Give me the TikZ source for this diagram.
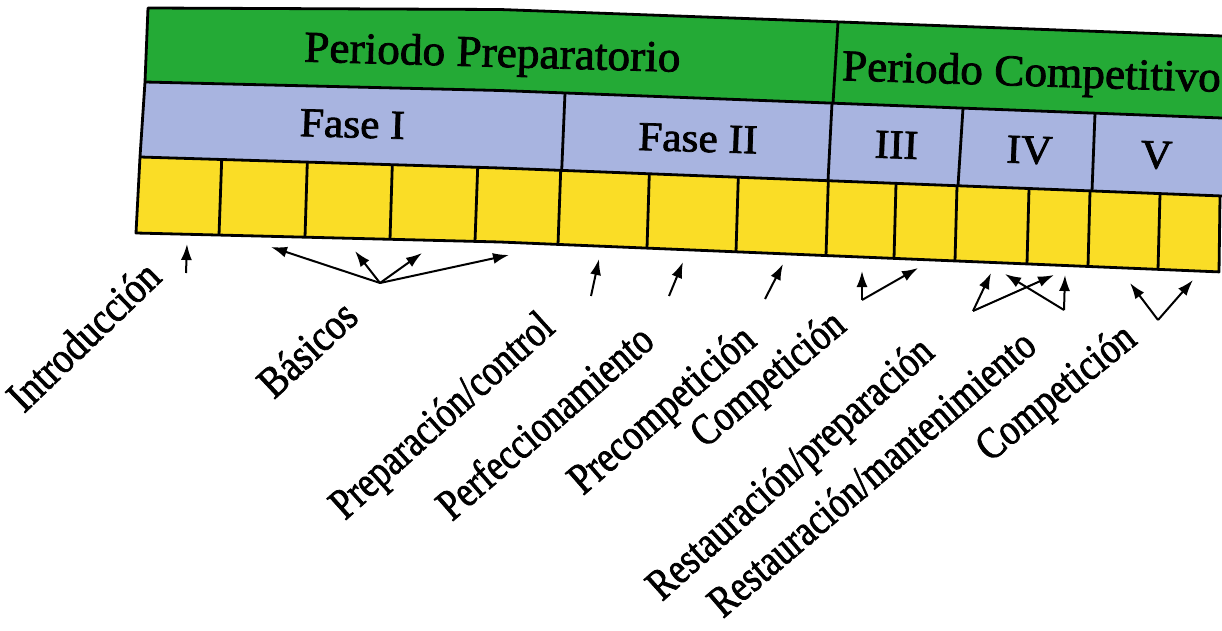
\documentclass[tikz,border=0pt]{standalone}
\usepackage{fontspec}
\setmainfont{Liberation Serif}
\newfontfamily\thickserif{Liberation Serif}[FakeBold=1.8]
\usetikzlibrary{arrows.meta}
\definecolor{pgreen}{RGB}{36,170,54}
\definecolor{pblue}{RGB}{168,180,224}
\definecolor{pyellow}{RGB}{250,221,38}
\tikzset{
  grid/.style={line width=2.8pt, line join=round},
  arr/.style={-{Latex[length=16pt,width=11pt]}, line width=2pt},
  head/.style={font=\thickserif\fontsize{44}{48}\selectfont, anchor=base, inner sep=0pt, xscale=1.03},
  sub/.style={font=\thickserif\fontsize{41}{46}\selectfont, anchor=base, inner sep=0pt, xscale=1.06},
  lab/.style={font=\thickserif\fontsize{44}{48}\selectfont, anchor=base west, inner sep=0pt}
}
\begin{document}
\begin{tikzpicture}[x=1pt,y=-1pt,
  declare function={
    yb(\x)=(\x<=500)*(82+(\x-145)*0.02394)+(\x>500)*(90.5+(\x-500)*0.0381);
    yc(\x)=(\x<=500)*(157+(\x-140)*0.03056)+(\x>500)*(168+(\x-500)*0.03878);
    yd(\x)=(\x<=500)*(233+(\x-136)*0.02473)+(\x>500)*(242+(\x-500)*0.04155);
  }]
\useasboundingbox (0,0) rectangle (1222,631);
% fills
\fill[pgreen] (148,8) -- (500,9.5) -- (1222,36) -- (1222,118) -- (500,90.5) -- (145,82) -- cycle;
\fill[pblue] (145,82) -- (500,90.5) -- (1222,118) -- (1222,196) -- (500,168) -- (140,157) -- cycle;
\fill[pyellow] (140,157) -- (500,168) -- (1220,195.9) -- (1219,271.9) -- (500,242) -- (136,233) -- cycle;
% row lines
\draw[grid] (1222,36) -- (500,9.5) -- (148,8) -- (145,82) -- (140,157) -- (136,233) -- (500,242) -- (1219,271.9) -- (1220,195.9);
\draw[grid] (145,82) -- (500,90.5) -- (1222,118);
\draw[grid] (140,157) -- (500,168) -- (1222,196);
% green divider
\draw[grid] (838,21.9) -- (833,103.2);
% blue dividers
\draw[grid] (565,{yb(565)}) -- (561.7,{yc(561.7)});
\draw[grid] (832,{yb(832)}) -- (828,{yc(828)});
\draw[grid] (963,{yb(963)}) -- (958,{yc(958)});
\draw[grid] (1095,{yb(1095)}) -- (1092,{yc(1092)});
% yellow dividers
\foreach \t/\b in {221.7/219, 307.3/305, 392.3/390, 477.7/475, 560.7/558, 649.3/647, 738.3/736, 828.3/826, 896/894, 957/955, 1029/1027, 1090/1088, 1160/1158}
  \draw[grid] (\t,{yc(\t)}) -- (\b,{yd(\b)});
% headings
\node[head, rotate=-1.6] (pprep) at (492,66.7) {Periodo Preparatorio};
\node[head, rotate=-1.8] (pcomp) at (1031,86) {Periodo Competitivo};
\node[sub, rotate=-1.7] (f1) at (352,137.5) {Fase I};
\node[sub, rotate=-1.8] (f2) at (697.5,151.7) {Fase II};
\node[sub, rotate=-2] (f3) at (896,158.3) {III};
\node[sub, rotate=-2] (f4) at (1029,163.3) {IV};
\node[sub, rotate=-2] (f5) at (1156,168.3) {V};
% arrow coordinates
\coordinate (a1t) at (186,273); \coordinate (a1h) at (187,244);
\coordinate (bhub) at (380,283);
\coordinate (bh1) at (271,247); \coordinate (bh2) at (355,251);
\coordinate (bh3) at (422,253); \coordinate (bh4) at (509,255);
\coordinate (ct) at (591,296); \coordinate (ch) at (599,259);
\coordinate (dt) at (669,296); \coordinate (dh) at (683,262);
\coordinate (et) at (765,299); \coordinate (eh) at (783,264);
\coordinate (fv) at (862,300); \coordinate (fh1) at (862,271); \coordinate (fh2) at (918,268);
\coordinate (gv1) at (973,311); \coordinate (gh1) at (991,273); \coordinate (gh2) at (1054,275);
\coordinate (gv2) at (1064,310); \coordinate (gh3) at (1065,275); \coordinate (gh4) at (1005,274);
\coordinate (hv) at (1158,320); \coordinate (hh1) at (1130,283); \coordinate (hh2) at (1193,280);
% arrows
\draw[arr] (a1t) -- (a1h);
\foreach \h in {bh1,bh2,bh3,bh4} \draw[arr] (bhub) -- (\h);
\draw[arr] (ct) -- (ch);
\draw[arr] (dt) -- (dh);
\draw[arr] (et) -- (eh);
\draw[arr] (fv) -- (fh1); \draw[arr] (fv) -- (fh2);
\draw[arr] (gv1) -- (gh1); \draw[arr] (gv1) -- (gh2);
\draw[arr] (gv2) -- (gh3); \draw[arr] (gv2) -- (gh4);
\draw[arr] (hv) -- (hh1); \draw[arr] (hv) -- (hh2);
% labels
\node[lab, rotate=44, xscale=0.86] (intro) at (24,414) {Introducción};
\node[lab, rotate=43, xscale=0.86] (basicos) at (274,400) {Básicos};
\node[lab, rotate=42, xscale=0.82] (prepctrl) at (345,521) {Preparación/control};
\node[lab, rotate=41, xscale=0.82] (perfecc) at (452,522) {Perfeccionamiento};
\node[lab, rotate=41, xscale=0.84] (precomp) at (583,496) {Precompetición};
\node[lab, rotate=40, xscale=0.82] (comp1) at (705,449) {Competición};
\node[lab, rotate=42, xscale=0.82] (restprep) at (662,602) {Restauración/preparación};
\node[lab, rotate=40.5, xscale=0.82] (restmant) at (723,619) {Restauración/mantenimiento};
\node[lab, rotate=39, xscale=0.84] (comp2) at (990,463) {Competición};
\end{tikzpicture}
\end{document}
